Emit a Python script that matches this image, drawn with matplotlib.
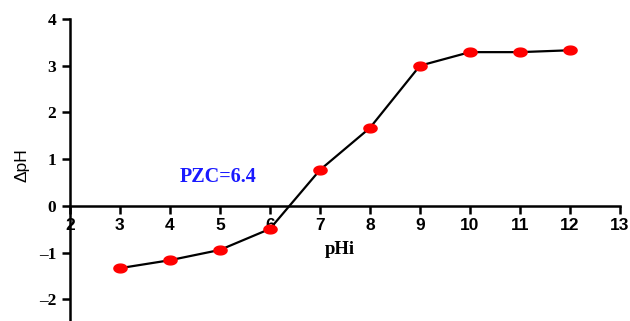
import numpy as np
import matplotlib
matplotlib.use("Agg")
import matplotlib.pyplot as plt
from matplotlib.path import Path

# data
phi = [3, 4, 5, 6, 7, 8, 9, 10, 11, 12]
dph = [-1.33, -1.16, -0.94, -0.49, 0.77, 1.67, 3.0, 3.29, 3.29, 3.33]
xticks = [2, 3, 4, 5, 6, 7, 8, 9, 10, 11, 12, 13]
yticks = [-2, -1, 0, 1, 2, 3, 4]
ylabels = ["–2", "–1", "0", "1", "2", "3", "4"]

# stretched (elliptic) marker like in the picture
t = np.linspace(0, 2 * np.pi, 40)
ellipse = Path(np.column_stack([1.5 * np.cos(t), np.sin(t)]), closed=True)

fig = plt.figure(figsize=(6.3, 3.21), dpi=100)
ax = fig.add_axes([0.111, 0.0, 0.873, 0.941])

ax.plot(phi, dph, color="black", lw=1.6, zorder=2)
ax.plot(phi, dph, ls="none", marker=ellipse, ms=9.5, color="#ff0000",
        mec="#ff0000", zorder=3)

ax.set_xlim(2, 13)
ax.set_ylim(-2.46, 4)

ax.spines["top"].set_visible(False)
ax.spines["right"].set_visible(False)
ax.spines["bottom"].set_position(("data", 0))
ax.spines["left"].set_position(("data", 2))
for s in ["left", "bottom"]:
    ax.spines[s].set_linewidth(1.8)

ax.set_xticks(xticks)
ax.set_yticks(yticks)
ax.set_xticklabels([str(v) for v in xticks], fontfamily="Liberation Sans",
                   fontweight="bold", fontsize=12.5)
ax.set_yticklabels(ylabels, fontfamily="Liberation Serif",
                   fontweight="bold", fontsize=12.5)
ax.tick_params(axis="both", direction="out", length=6, width=1.8)
ax.tick_params(axis="x", pad=3)
ax.tick_params(axis="y", pad=4)

fig.text(0.035, 0.485, "ΔpH", rotation=90, ha="center", va="center",
         fontfamily="Liberation Sans", fontsize=12.5)
ax.text(4.2, 0.63, "PZC=6.4", color="#1a1aff", fontfamily="Liberation Serif",
        fontweight="bold", fontsize=14.5, va="center")
ax.text(7.1, -0.93, "pHi", fontfamily="Liberation Serif", fontweight="bold",
        fontsize=13.5, va="center")

fig.savefig("out.png", dpi=100)
